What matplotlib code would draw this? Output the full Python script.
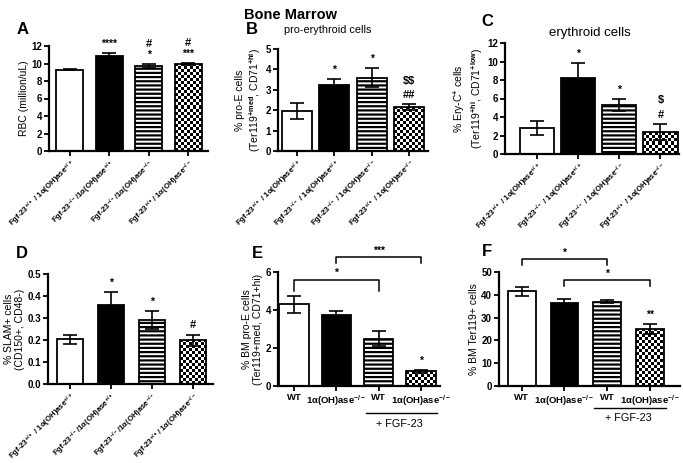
import matplotlib
matplotlib.use("Agg")
import matplotlib.pyplot as plt
import matplotlib.transforms as mtransforms
import numpy as np

plt.rcParams['font.family'] = ['Liberation Sans', 'DejaVu Sans']
plt.rcParams['font.weight'] = 'bold'
plt.rcParams['mathtext.fontset'] = 'custom'
plt.rcParams['mathtext.rm'] = 'Liberation Sans:bold'
plt.rcParams['mathtext.it'] = 'Liberation Sans:bold'
plt.rcParams['mathtext.bf'] = 'Liberation Sans:bold'
plt.rcParams['mathtext.default'] = 'rm'
plt.rcParams['hatch.linewidth'] = 1.6

W, H = 683, 463

# ---- data ----
geno_a = ["Fgf-23$^{+/+}$ / 1α(OH)ase$^{+/+}$", "Fgf-23$^{-/-}$/1α(OH)ase$^{+/+}$",
          "Fgf-23$^{-/-}$/1α(OH)ase$^{-/-}$", "Fgf-23$^{+/+}$/ 1α(OH)ase$^{-/-}$"]
geno_b = ["Fgf-23$^{+/+}$ / 1α(OH)ase$^{+/+}$", "Fgf-23$^{-/-}$ / 1α(OH)ase$^{+/+}$",
          "Fgf-23$^{-/-}$ / 1α(OH)ase$^{-/-}$", "Fgf-23$^{+/+}$ / 1α(OH)ase$^{-/-}$"]
treat_labels = ["WT", "1α(OH)ase$^{-/-}$", "WT", "1α(OH)ase$^{-/-}$"]

rbc = [9.3, 10.9, 9.75, 9.95]
rbc_err = [0.08, 0.32, 0.22, 0.15]
rbc_marks = [[], ["****"], ["*", "#"], ["***", "#"]]

proe = [1.95, 3.25, 3.6, 2.15]
proe_err = [0.4, 0.28, 0.48, 0.13]
proe_marks = [[], ["*"], ["*"], ["##", "$$"]]

eryc = [2.8, 8.2, 5.3, 2.4]
eryc_err = [0.75, 1.65, 0.6, 0.85]
eryc_marks = [[], ["*"], ["*"], ["#", "$"]]

slam = [0.203, 0.36, 0.29, 0.2]
slam_err = [0.02, 0.057, 0.04, 0.025]
slam_marks = [[], ["*"], ["*"], ["#"]]

bm_proe = [4.3, 3.75, 2.5, 0.78]
bm_proe_err = [0.45, 0.2, 0.42, 0.07]
bm_proe_marks = [[], [], [], ["*"]]
bm_proe_brackets = [(0, 2, 5.6, 5.0, "*"), (1, 3, 6.8, 6.45, "***")]

ter119 = [41.5, 36.2, 37.0, 25.0]
ter119_err = [2.0, 2.0, 0.6, 2.2]
ter119_marks = [[], [], [], ["**"]]
ter119_brackets = [(0, 2, 55.8, 52.9, "*"), (1, 3, 46.6, 43.7, "*")]

fig = plt.figure(figsize=(W / 100, H / 100), dpi=100)


def ax_at(x0, y0, x1, y1):
    return fig.add_axes([x0 / W, 1 - y1 / H, (x1 - x0) / W, (y1 - y0) / H])


def checker(ax, bar, cell=3):
    # checkerboard fill built at screen resolution so the squares stay crisp
    x0, w, h = bar.get_x(), bar.get_width(), bar.get_height()
    p0 = ax.transData.transform((x0, 0))
    p1 = ax.transData.transform((x0 + w, h))
    nx = max(1, int(round(abs(p1[0] - p0[0]))))
    ny = max(1, int(round(abs(p1[1] - p0[1]))))
    arr = (np.add.outer(np.arange(ny) // cell, np.arange(nx) // cell) % 2).astype(float)
    im = ax.imshow(arr, cmap='gray', extent=[x0, x0 + w, 0, h], origin='lower',
                   aspect='auto', interpolation='nearest', zorder=1)
    im.set_clip_path(bar)


def panel(ax, vals, errs, marks, ylim, yticks, xlim, width, ylabel, yfmt=None,
          first=3, step=10.5):
    x = np.arange(len(vals))
    ax.set_xlim(*xlim)
    ax.set_ylim(*ylim)
    bars = ax.bar(x, vals, width=width, color=['white', 'black', 'white', 'none'],
                  edgecolor='black', linewidth=1.3, zorder=2)
    bars[2].set_hatch('----')
    checker(ax, bars[3])
    ax.errorbar(x, vals, yerr=errs, fmt='none', ecolor='black', elinewidth=1.2,
                capsize=5, capthick=1.2, zorder=3)
    for xi, v, e, ms in zip(x, vals, errs, marks):
        for k, m in enumerate(ms):
            t = ax.annotate(m, (xi, v + e), xytext=(0, first + step * k), textcoords='offset points',
                            ha='center', va='bottom', fontsize=8 if '#' in m or '$' in m else 7.5,
                            annotation_clip=False)
            t.set_parse_math(False)
    ax.set_yticks(yticks)
    if yfmt:
        ax.set_yticklabels([yfmt.format(t) for t in yticks])
    ax.set_xticks(x)
    ax.spines['top'].set_visible(False)
    ax.spines['right'].set_visible(False)
    ax.spines['left'].set_linewidth(1.6)
    ax.spines['bottom'].set_linewidth(1.6)
    ax.tick_params(axis='both', width=1.3, length=3.5, labelsize=7, pad=1.5)
    ax.set_ylabel(ylabel, fontsize=7.5, labelpad=1.5)
    ax.set_xlim(*xlim)
    ax.set_ylim(*ylim)
    return x


def geno_ticks(ax, labels):
    ax.set_xticklabels(labels, rotation=45, ha='right', rotation_mode='anchor', fontsize=5.6)


def treat_ticks(ax, labels, line_y, text_y, brackets):
    ax.set_xticklabels(labels, fontsize=6.8)
    tr = mtransforms.blended_transform_factory(ax.transData, ax.transAxes)
    ax.plot([2 - 0.3, 3 + 0.38], [line_y, line_y], color='black', lw=1, transform=tr, clip_on=False)
    ax.text(2.5, text_y, "+ FGF-23", transform=tr, ha='center', va='center',
            fontsize=7.8, fontweight='normal')
    for a, b, top, leg, s in brackets:
        ax.plot([a, a, b, b], [leg, top, top, leg], color='black', lw=1.1, clip_on=False)
        ax.annotate(s, ((a + b) / 2, top), xytext=(0, 1), textcoords='offset points',
                    ha='center', va='bottom', fontsize=7.5, annotation_clip=False)


axA = ax_at(49, 46, 208, 151)
panel(axA, rbc, rbc_err, rbc_marks, (0, 12), [0, 2, 4, 6, 8, 10, 12], (-0.53, 3.5), 0.68,
      "RBC (million/uL)", first=3, step=7.5)
geno_ticks(axA, geno_a)

axB = ax_at(278, 49, 428, 151)
panel(axB, proe, proe_err, proe_marks, (0, 5), [0, 1, 2, 3, 4, 5], (-0.5, 3.5), 0.8,
      "% pro-E cells\n(Ter119$^{+med}$, CD71$^{+hi}$)")
geno_ticks(axB, geno_b)

axC = ax_at(505, 43, 679, 154)
panel(axC, eryc, eryc_err, eryc_marks, (0, 12), [0, 2, 4, 6, 8, 10, 12], (-0.78, 3.45), 0.83,
      "% Ery-C$^{+}$ cells\n(Ter119$^{+hi}$, CD71$^{+low}$)")
geno_ticks(axC, geno_b)

axD = ax_at(48, 274, 213, 384)
panel(axD, slam, slam_err, slam_marks, (0, 0.5), [0, 0.1, 0.2, 0.3, 0.4, 0.5], (-0.54, 3.49), 0.65,
      "% SLAM+ cells\n(CD150+, CD48-)", yfmt="{:.1f}")
geno_ticks(axD, geno_a)

axE = ax_at(278, 272, 440, 386)
panel(axE, bm_proe, bm_proe_err, bm_proe_marks, (0, 6), [0, 2, 4, 6], (-0.38, 3.45), 0.7,
      "% BM pro-E cells\n(Ter119+med, CD71+hi)")
treat_ticks(axE, treat_labels, -0.24, -0.33, bm_proe_brackets)

axF = ax_at(499, 272, 680, 386)
panel(axF, ter119, ter119_err, ter119_marks, (0, 50), [0, 10, 20, 30, 40, 50], (-0.53, 3.7), 0.65,
      "% BM Ter119+ cells")
treat_ticks(axF, treat_labels, -0.19, -0.28, ter119_brackets)

for lab, px, py in [("A", 23, 30), ("B", 252, 30), ("C", 487, 22),
                    ("D", 22, 253), ("E", 257, 253), ("F", 487, 252)]:
    fig.text(px / W, 1 - py / H, lab, ha='center', va='center', fontsize=12, fontweight='bold')
fig.text(290 / W, 1 - 15 / H, "Bone Marrow", ha='center', va='center', fontsize=10.5, fontweight='bold')
fig.text(328 / W, 1 - 30 / H, "pro-erythroid cells", ha='center', va='center',
         fontsize=7.8, fontweight='normal')
fig.text(590 / W, 1 - 33 / H, "erythroid cells", ha='center', va='center',
         fontsize=9.5, fontweight='normal')

fig.savefig("out.png", dpi=100)
